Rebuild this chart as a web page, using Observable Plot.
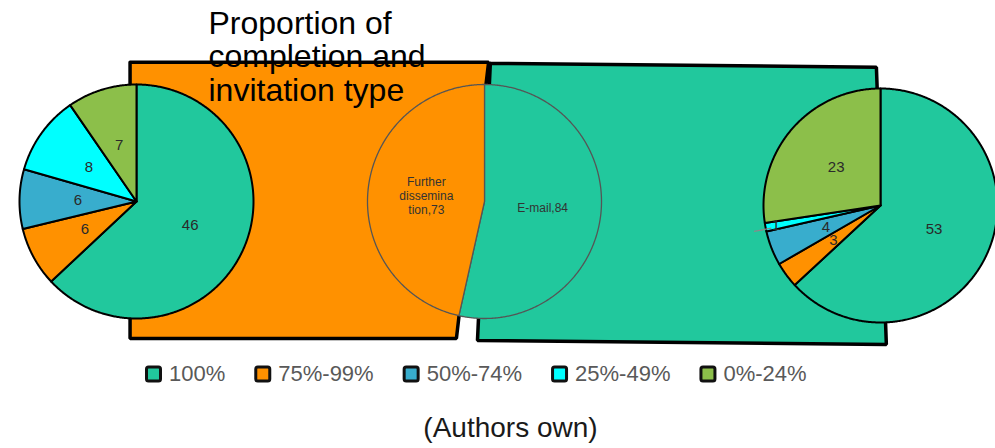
<!DOCTYPE html>
<html>
<head>
<meta charset="utf-8">
<script src="https://cdn.jsdelivr.net/npm/d3@7"></script>
<script src="https://cdn.jsdelivr.net/npm/@observablehq/plot@0.6"></script>
<style>
  html, body { margin: 0; padding: 0; background: #fff; }
</style>
</head>
<body>
<div id="chart"></div>
<script>
// Completion bands, in legend order
const bands = ["100%", "75%-99%", "50%-74%", "25%-49%", "0%-24%"];
const bandColors = ["#21c89d", "#ff9100", "#38adcd", "#00ffff", "#8cbf4a"];

// Respondents in each completion band, by invitation type
const furtherDissemination = [46, 6, 6, 8, 7];
const email = [53, 3, 4, 1, 23];

// Invitation type split (clockwise from 12 o'clock)
const invitationTypes = ["E-mail", "Further dissemination"];
const invitationCounts = [84, 73];
const invitationLabels = ["E-mail,84", "Further\ndissemina\ntion,73"];
const invitationColors = ["#21c89d", "#ff9100"];

const title = "Proportion of\ncompletion and\ninvitation type";
const caption = "(Authors own)";

// ---- layout ----
const W = 995, H = 448;
const R = 117;
const leftPie = {cx: 136, cy: 201};
const midPie = {cx: 484, cy: 201};
const rightPie = {cx: 880, cy: 205};
const FONT = "'Liberation Sans', Arial, Helvetica, sans-serif";

// Slice outlines as closed polygons (centre -> arc -> centre)
function slices(values, colors, c, prefix) {
  const arcs = d3.pie().sort(null).value(d => d)(values);
  const total = d3.sum(values);
  const pts = [], labels = [];
  arcs.forEach((a, i) => {
    const key = prefix + i, color = colors[i];
    pts.push({key, color, x: c.cx, y: c.cy});
    const n = Math.max(2, Math.ceil((a.endAngle - a.startAngle) / (Math.PI / 360)));
    for (let k = 0; k <= n; k++) {
      const t = a.startAngle + (a.endAngle - a.startAngle) * k / n;
      pts.push({key, color, x: c.cx + R * Math.sin(t), y: c.cy - R * Math.cos(t)});
    }
    pts.push({key, color, x: c.cx, y: c.cy});
    const mid = (a.startAngle + a.endAngle) / 2;
    const small = a.value / total < 0.02;
    const rr = small ? 0.91 : 0.5;
    labels.push({
      value: a.value, mid, small, c,
      x: c.cx + rr * R * Math.sin(mid),
      y: c.cy - rr * R * Math.cos(mid)
    });
  });
  return {pts, labels};
}

const left = slices(furtherDissemination, bandColors, leftPie, "L");
const right = slices(email, bandColors, rightPie, "R");
const centre = slices(invitationCounts, invitationColors, midPie, "M");
centre.labels.forEach((d, i) => d.text = invitationLabels[i]);

// Leader lines for slivers labelled near the rim
const leaders = [...left.labels, ...right.labels].filter(d => d.small).map(d => ({
  x1: d.c.cx + 0.95 * R * Math.sin(d.mid), y1: d.c.cy - 0.95 * R * Math.cos(d.mid) + 2,
  x2: d.c.cx + 1.1 * R * Math.sin(d.mid), y2: d.c.cy - 1.1 * R * Math.cos(d.mid) + 2
}));

// Background panels linking the side pies to their slice of the centre pie
const panelTop = midPie.cy - 1.19 * R, panelBottom = midPie.cy + 1.17 * R;
const panels = [
  {key: "email", color: invitationColors[0], corners: [
    [midPie.cx + 0.05 * R, panelTop + 1], [rightPie.cx - 0.035 * R, panelTop + 5],
    [rightPie.cx + 0.05 * R, panelBottom + 6], [midPie.cx - 0.06 * R, panelBottom + 2]]},
  {key: "further", color: invitationColors[1], corners: [
    [leftPie.cx - 0.055 * R, panelTop], [midPie.cx + 0.035 * R, panelTop],
    [midPie.cx - 0.24 * R, panelBottom], [leftPie.cx - 0.055 * R, panelBottom]]}
];
const panelPts = panels.flatMap(p =>
  [...p.corners, p.corners[0]].map(([x, y]) => ({key: p.key, color: p.color, x, y})));

// Legend items laid out left to right from measured text widths
const ctx = document.createElement("canvas").getContext("2d");
ctx.font = `22px ${FONT}`;
const sw = 14, legendY = 374;
let lx = 146.5;
const legend = bands.map((b, i) => {
  const item = {band: b, color: bandColors[i], x1: lx, x2: lx + sw, tx: lx + sw + 8};
  lx = item.tx + ctx.measureText(b).width + 31;
  return item;
});

const polygon = (data, opts) => Plot.line(data, {x: "x", y: "y", z: "key", fill: "color", curve: "linear", ...opts});

const chart = Plot.plot({
  width: W,
  height: H,
  margin: 0,
  x: {domain: [0, W], range: [0, W], axis: null},
  y: {domain: [0, H], range: [0, H], axis: null},
  color: {type: "identity"},
  style: {fontFamily: FONT, background: "#fff"},
  marks: [
    polygon(panelPts, {stroke: "#000", strokeWidth: 3.5, strokeLinejoin: "miter"}),
    polygon(centre.pts, {stroke: "#555", strokeWidth: 1.3}),
    polygon(left.pts, {stroke: "#000", strokeWidth: 2}),
    polygon(right.pts, {stroke: "#000", strokeWidth: 2}),
    Plot.link(leaders, {x1: "x1", y1: "y1", x2: "x2", y2: "y2", stroke: "#8a8a8a", strokeWidth: 1.3}),
    Plot.text([...left.labels, ...right.labels], {
      x: "x", y: "y", text: d => String(d.value), fontSize: 15, fill: "#2a2a2a"
    }),
    Plot.text(centre.labels, {
      x: "x", y: "y", text: "text", fontSize: 12, lineHeight: 1.17, fill: "#333"
    }),
    // legend
    Plot.rect(legend, {
      x1: "x1", x2: "x2", y1: legendY - sw / 2, y2: legendY + sw / 2,
      fill: "color", stroke: "#111", strokeWidth: 3, rx: 2
    }),
    Plot.text(legend, {
      x: "tx", y: legendY - 1, text: "band", textAnchor: "start",
      fontSize: 22, fill: "#595959"
    }),
    Plot.text([caption], {x: 510, y: 428, text: d => d, fontSize: 28, fill: "#1a1a1a"}),
    // title sits over the panels
    Plot.text([title], {
      x: 208, y: 10, text: d => d, textAnchor: "start", lineAnchor: "top",
      fontSize: 32, lineHeight: 1.04, fill: "#000"
    })
  ]
});

document.getElementById("chart").append(chart);
</script>
</body>
</html>
